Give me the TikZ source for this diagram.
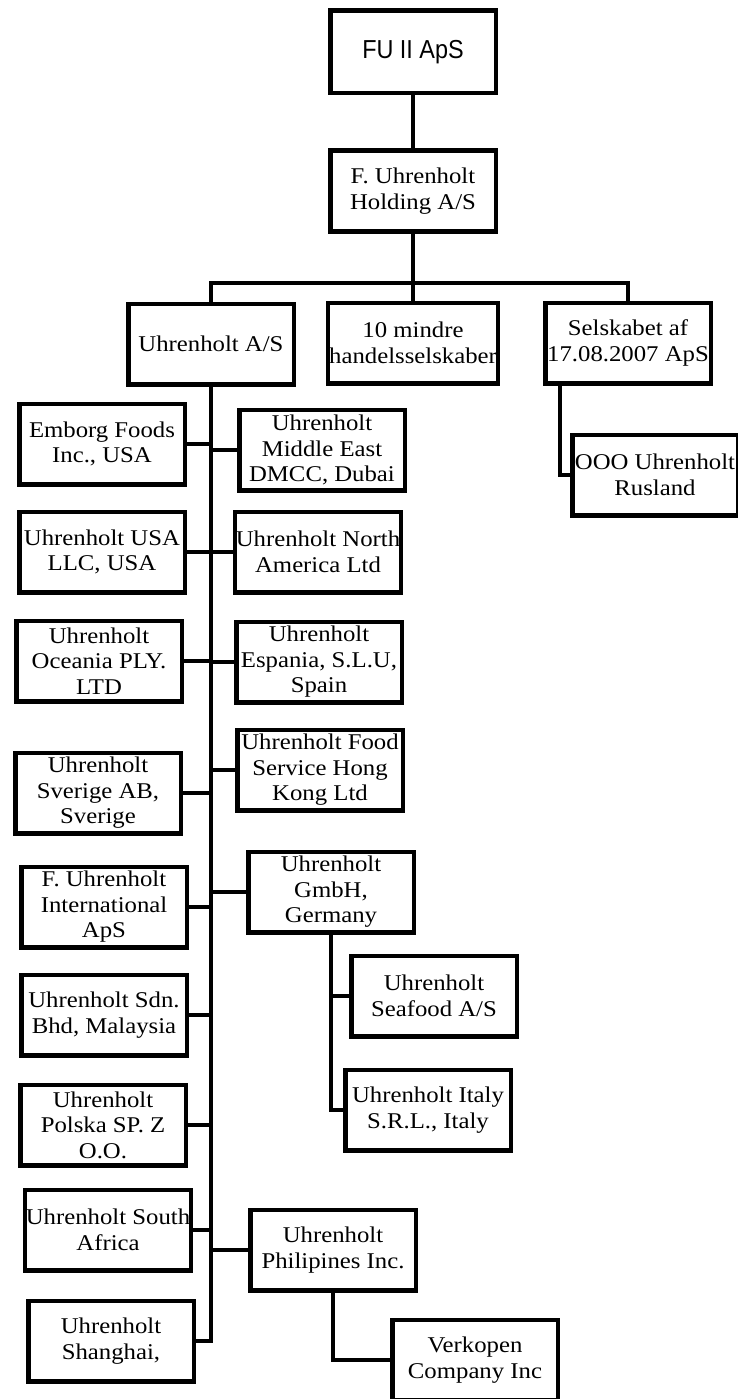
\documentclass[tikz,border=0pt]{standalone}
\usepackage{fontspec}
\setmainfont{Liberation Serif}[FakeStretch=1.1]
\newfontfamily\fusans{Liberation Sans}[FakeStretch=0.9]
\usepackage{tikz}
\usetikzlibrary{positioning,calc}
\definecolor{orgBlack}{RGB}{0,0,0}
\tikzset{
  orgbox/.style={draw=orgBlack, line width=4.5pt, minimum width=165.5pt, minimum height=80.5pt,
    inner sep=1pt, align=center, font=\fontsize{22.5}{25.5}\selectfont},
  orgline/.style={draw=orgBlack, line width=4.5pt}
}
\begin{document}
\begin{tikzpicture}[x=1pt, y=-1pt]
  \useasboundingbox (0,0) rectangle (737,1399);

  % Top of the group
  \node[orgbox, font=\fusans\fontsize{26}{28}\selectfont, minimum height=82.5pt] (fu) at (413,52) {FU II ApS};
  \node[orgbox] (hold) at (413,191) {F. Uhrenholt\\Holding A/S};
  \draw[orgline] (fu) -- (hold);

  % Second level
  \node[orgbox] (uas) at (211,344) {Uhrenholt A/S};
  \node[orgbox] (mindre) at (413,343) {10 mindre\\handelsselskaber};
  \node[orgbox] (selsk) at (628,343) {Selskabet af\\17.08.2007 ApS};
  \coordinate (bar) at (413,283);
  \draw[orgline] (hold) -- (mindre);
  \draw[orgline] (uas.north) |- (bar) -| (selsk.north);

  % Russia
  \node[orgbox] (ooo) at (655,475) {OOO Uhrenholt\\Rusland};
  \draw[orgline] ([xshift=-68pt]selsk.south) |- (ooo.west);

  % Left column under Uhrenholt A/S
  \node[orgbox] (emborg) at (102,444) {Emborg Foods\\Inc., USA};
  \node[orgbox] (usa) at (102,552) {Uhrenholt USA\\LLC, USA};
  \node[orgbox] (oceania) at (99,661) {Uhrenholt\\Oceania PLY.\\LTD};
  \node[orgbox] (sverige) at (98,793) {Uhrenholt\\Sverige AB,\\Sverige};
  \node[orgbox] (intl) at (104,907) {F. Uhrenholt\\International\\ApS};
  \node[orgbox] (malaysia) at (104,1015) {Uhrenholt Sdn.\\Bhd, Malaysia};
  \node[orgbox] (polska) at (103,1125) {Uhrenholt\\Polska SP. Z\\O.O.};
  \node[orgbox] (safrica) at (108,1230) {Uhrenholt South\\Africa};
  \node[orgbox] (shanghai) at (111,1341) {Uhrenholt\\Shanghai,};

  % Right column under Uhrenholt A/S
  \node[orgbox] (mideast) at (322,450) {Uhrenholt\\Middle East\\DMCC, Dubai};
  \node[orgbox] (northam) at (318,552) {Uhrenholt North\\America Ltd};
  \node[orgbox] (espania) at (319,662) {Uhrenholt\\Espania, S.L.U,\\Spain};
  \node[orgbox] (hongkong) at (320,770) {Uhrenholt Food\\Service Hong\\Kong Ltd};
  \node[orgbox] (gmbh) at (331,892) {Uhrenholt\\GmbH,\\Germany};
  \node[orgbox] (philip) at (333,1250) {Uhrenholt\\Philipines Inc.};

  % Trunk and branches
  \draw[orgline] (uas.south) |- (shanghai.east);
  \foreach \sub in {emborg,usa,oceania,sverige,intl,malaysia,polska,safrica}
    \draw[orgline] (\sub.east) -- (\sub.east -| uas.south);
  \foreach \sub in {mideast,northam,espania,hongkong,gmbh,philip}
    \draw[orgline] (\sub.west) -- (\sub.west -| uas.south);

  % Under Germany
  \node[orgbox] (seafood) at (434,996) {Uhrenholt\\Seafood A/S};
  \node[orgbox] (italy) at (428,1110) {Uhrenholt Italy\\S.R.L., Italy};
  \draw[orgline] (gmbh.south) |- (italy.west);
  \draw[orgline] (seafood.west) -- (seafood.west -| gmbh.south);

  % Under Philipines
  \node[orgbox] (verkopen) at (475,1360) {Verkopen\\Company Inc};
  \draw[orgline] (philip.south) |- (verkopen.west);
\end{tikzpicture}
\end{document}
